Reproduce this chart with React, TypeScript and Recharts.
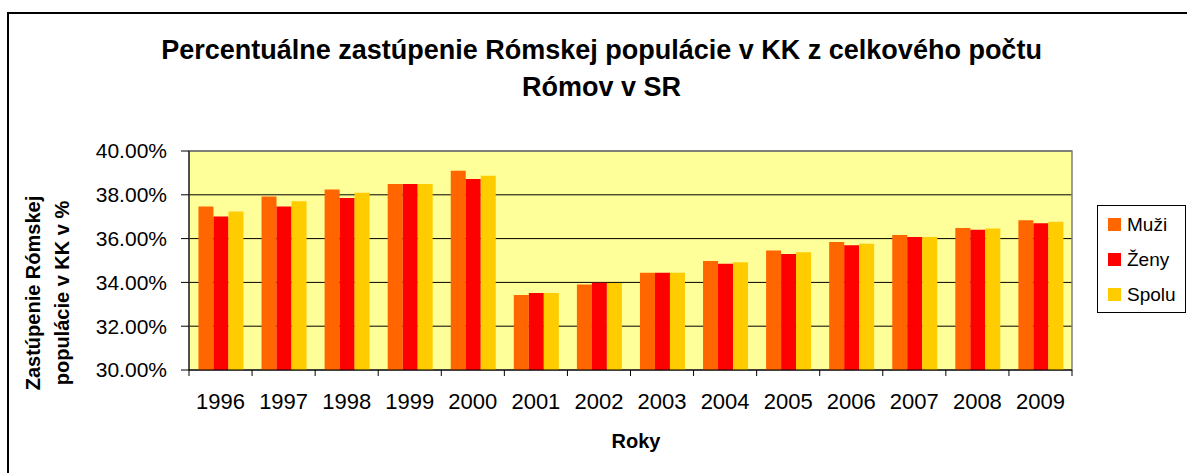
import {
  BarChart,
  Bar,
  XAxis,
  YAxis,
  CartesianGrid,
  ReferenceArea,
} from 'recharts';

const years = ['1996', '1997', '1998', '1999', '2000', '2001', '2002', '2003', '2004', '2005', '2006', '2007', '2008', '2009'];
const muzi = [37.47, 37.92, 38.24, 38.49, 39.1, 33.43, 33.9, 34.44, 34.98, 35.46, 35.85, 36.16, 36.48, 36.84];
const zeny = [37.01, 37.47, 37.85, 38.49, 38.72, 33.52, 33.98, 34.44, 34.85, 35.3, 35.7, 36.07, 36.4, 36.7];
const spolu = [37.24, 37.71, 38.09, 38.49, 38.87, 33.52, 33.97, 34.44, 34.92, 35.38, 35.76, 36.07, 36.46, 36.77];
const yTicks = [30, 32, 34, 36, 38, 40];

const SERIES = [
  { key: 'muzi', label: 'Muži', color: '#FF6600' },
  { key: 'zeny', label: 'Ženy', color: '#FF0000' },
  { key: 'spolu', label: 'Spolu', color: '#FFCC00' },
];

const data = years.map((year, i) => ({
  year,
  muzi: muzi[i],
  zeny: zeny[i],
  spolu: spolu[i],
}));

const FONT = '"Liberation Sans", Arial, sans-serif';

// Year label plus tick marks on the category boundaries (Excel style)
const YearTick = (props: any) => {
  const { x, y, payload, index } = props;
  const off = payload.offset || 0;
  const left = payload.coordinate - off;
  const right = payload.coordinate + off;
  return (
    <g>
      <line x1={left} x2={left} y1={y - 23} y2={y - 17} stroke="#000" />
      {index === years.length - 1 && (
        <line x1={right} x2={right} y1={y - 23} y2={y - 17} stroke="#000" />
      )}
      <text
        x={x}
        y={y}
        dy="0.71em"
        textAnchor="middle"
        fontSize={22}
        fontFamily={FONT}
        fill="#000"
      >
        {payload.value}
      </text>
    </g>
  );
};

const LegendBox = () => (
  <div
    style={{
      position: 'absolute',
      left: 1097,
      top: 205,
      border: '1px solid #000',
      background: '#fff',
      width: 89,
      height: 108,
      boxSizing: 'border-box',
      padding: '1px 0 0 10px',
      fontFamily: FONT,
      fontSize: 19,
    }}
  >
    {SERIES.map((s) => (
      <div key={s.key} style={{ display: 'flex', alignItems: 'center', height: 35 }}>
        <div style={{ width: 13, height: 13, background: s.color, marginRight: 6 }} />
        <span>{s.label}</span>
      </div>
    ))}
  </div>
);

export default function App() {
  return (
    <div
      style={{
        position: 'absolute',
        left: 0,
        top: 0,
        width: 1187,
        height: 473,
        overflow: 'hidden',
        background: '#fff',
        fontFamily: FONT,
      }}
    >
      <div
        style={{
          position: 'absolute',
          left: 7,
          top: 12,
          width: 1200,
          height: 500,
          borderLeft: '2px solid #000',
          borderTop: '2px solid #000',
        }}
      />
      <div
        style={{
          position: 'absolute',
          left: 0,
          width: 1203,
          top: 32,
          textAlign: 'center',
          fontWeight: 'bold',
          fontSize: 27,
          lineHeight: '37px',
        }}
      >
        Percentuálne zastúpenie Rómskej populácie v KK z celkového počtu
        <br />
        Rómov v SR
      </div>
      <div
        style={{
          position: 'absolute',
          left: 48,
          top: 293,
          width: 300,
          transform: 'translate(-50%, -50%) rotate(-90deg)',
          textAlign: 'center',
          fontWeight: 'bold',
          fontSize: 20,
          lineHeight: '29px',
        }}
      >
        Zastúpenie Rómskej
        <br />
        populácie v KK v %
      </div>
      <div
        style={{
          position: 'absolute',
          left: 536,
          width: 200,
          top: 430,
          textAlign: 'center',
          fontWeight: 'bold',
          fontSize: 20,
        }}
      >
        Roky
      </div>
      <div style={{ position: 'absolute', left: 0, top: 0 }}>
        <BarChart
          width={1187}
          height={473}
          data={data}
          margin={{ top: 151, right: 115, left: 89, bottom: 73 }}
          barCategoryGap="15%"
          barGap={0}
        >
          <CartesianGrid vertical={false} stroke="#000" fill="#FFFF99" fillOpacity={1} />
          <ReferenceArea y1={30} y2={40} fill="none" stroke="#808080" strokeWidth={1.5} />
          <XAxis
            dataKey="year"
            height={30}
            stroke="#000"
            tickLine={false}
            tickSize={6}
            tickMargin={17}
            interval={0}
            tick={<YearTick />}
          />
          <YAxis
            width={100}
            domain={[30, 40]}
            ticks={yTicks}
            interval={0}
            allowDataOverflow
            stroke="#000"
            tickSize={8}
            tickMargin={14}
            tickFormatter={(v: number) => v.toFixed(2) + '%'}
            tick={{ fill: '#000', fontSize: 21, fontFamily: FONT }}
          />
          {SERIES.map((s) => (
            <Bar
              key={s.key}
              dataKey={s.key}
              name={s.label}
              fill={s.color}
              isAnimationActive={false}
            />
          ))}
        </BarChart>
      </div>
      <LegendBox />
    </div>
  );
}
